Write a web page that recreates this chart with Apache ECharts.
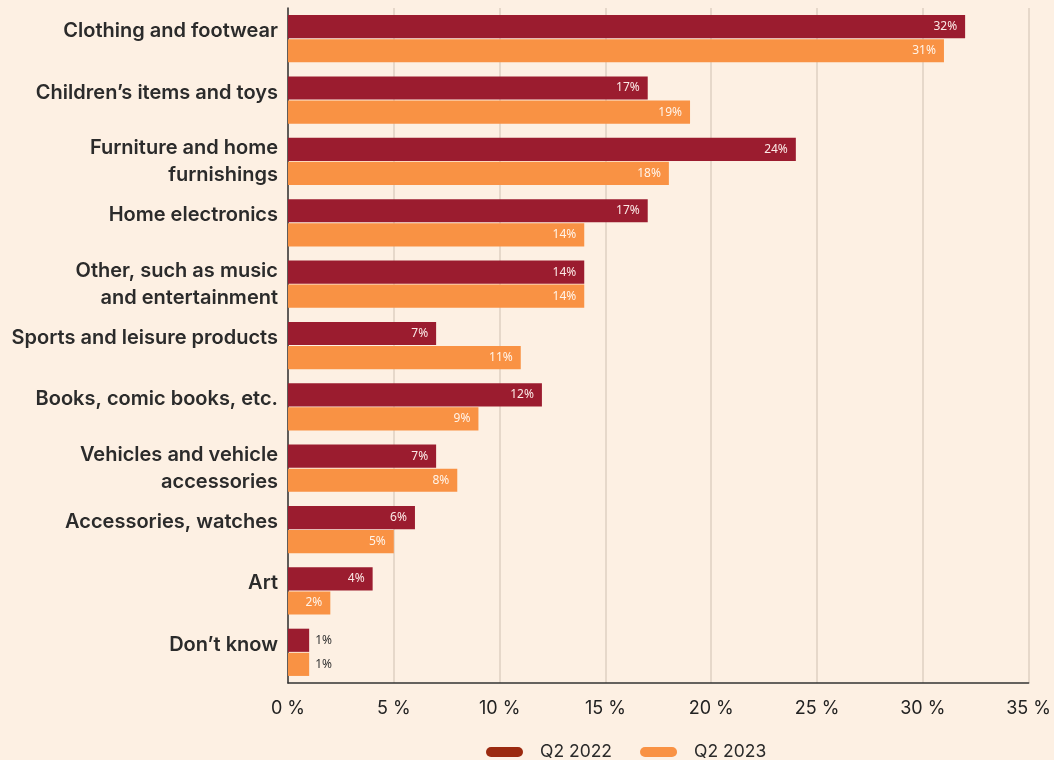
<!DOCTYPE html>
<html><head><meta charset="utf-8">
<script src="https://cdn.jsdelivr.net/npm/echarts@6/dist/echarts.min.js"></script>
<style>html,body{margin:0;padding:0;background:#fdf0e3;}#c{width:1054px;height:760px;}</style>
</head><body><div id="c"></div>
<script>
const categories = ["Clothing and footwear","Children’s items and toys","Furniture and home\nfurnishings","Home electronics","Other, such as music\nand entertainment","Sports and leisure products","Books, comic books, etc.","Vehicles and vehicle\naccessories","Accessories, watches","Art","Don’t know"];
const q2022 = [32,17,24,17,14,7,12,7,6,4,1];
const q2023 = [31,19,18,14,14,11,9,8,5,2,1];
const seriesNames = ["Q2 2022","Q2 2023"];

const chart = echarts.init(document.getElementById('c'));
function lbl(v){ return v.value + '%'; }
function mkData(arr){
  return arr.map(v => v === 1 ? {value:v,label:{position:'right',color:'#333',distance:6}} : v);
}
const pill = 'path://M5,0 H32 A5,5 0 0 1 32,10 H5 A5,5 0 0 1 5,0 Z';
chart.setOption({
  backgroundColor:'#fdf0e3',
  animation:false,
  grid:{left:288,right:24,top:8,bottom:77,containLabel:false},
  legend:{top:738,left:481,itemWidth:37,itemHeight:11,itemGap:28,
    textStyle:{fontFamily:'Inter',fontSize:17.5,color:'#2a2a2a',padding:[0,0,0,12]},
    data:[{name:seriesNames[0],icon:pill,itemStyle:{color:'#9b2a10'}},{name:seriesNames[1],icon:pill,itemStyle:{color:'#f99244'}}]},
  xAxis:{type:'value',min:0,max:35,interval:5,
    axisLine:{show:true,lineStyle:{color:'#333',width:1.5}},
    axisTick:{show:false},
    splitLine:{show:true,lineStyle:{color:'#e6d8ca',width:2}},
    axisLabel:{formatter:v=>v+' %',fontFamily:'Inter',fontSize:18,color:'#222',margin:17}},
  yAxis:{type:'category',inverse:true,data:categories,
    axisLine:{show:true,lineStyle:{color:'#333',width:1.5}},
    axisTick:{show:false},
    axisLabel:{fontFamily:'Inter',fontWeight:600,fontSize:20,color:'#2b2b2b',margin:10,lineHeight:27,align:'right',
      formatter:v => v.indexOf('\n') >= 0 ? v : v + '\n{e| }',
      rich:{e:{fontSize:2,lineHeight:15}}}},
  series:[
    {name:seriesNames[0],type:'bar',data:mkData(q2022),barGap:'4%',barCategoryGap:'23%',
      itemStyle:{color:'#9b1c2f'},
      label:{show:true,position:'insideRight',formatter:lbl,color:'#fbe9e6',fontFamily:'Noto Sans',fontSize:12,distance:8}},
    {name:seriesNames[1],type:'bar',data:mkData(q2023),
      itemStyle:{color:'#f99244'},
      label:{show:true,position:'insideRight',formatter:lbl,color:'#fff4ea',fontFamily:'Noto Sans',fontSize:12,distance:8}}
  ]
});
</script></body></html>
